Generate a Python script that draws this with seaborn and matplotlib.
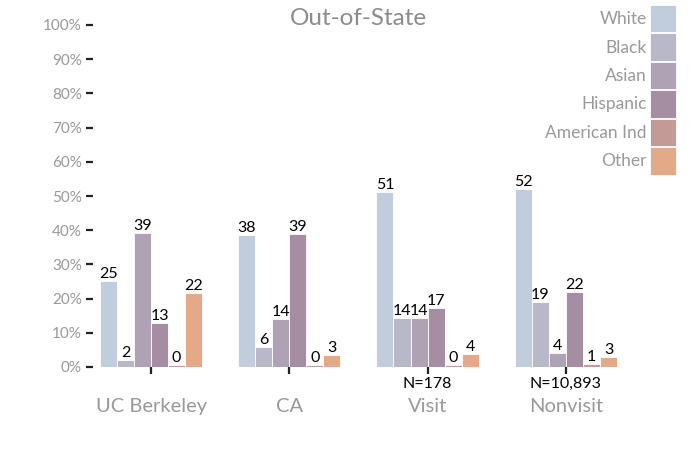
import pandas as pd
import matplotlib.pyplot as plt
import seaborn as sns

# data (percent)
groups = ["UC Berkeley", "CA", "Visit", "Nonvisit"]
races = ["White", "Black", "Asian", "Hispanic", "American Ind", "Other"]
white = [25.2, 38.5, 51.3, 52.0]
black = [2.0, 5.8, 14.4, 19.0]
asian = [39.2, 14.0, 14.2, 4.2]
hispanic = [12.8, 38.8, 17.2, 22.0]
american_ind = [0.5, 0.5, 0.5, 1.0]
other = [21.7, 3.4, 3.8, 2.9]
sample_sizes = ["", "", "N=178", "N=10,893"]
colors = ["#c1ccdc", "#b8b8c9", "#afa2b4", "#a58ea2", "#c49a96", "#e4aa88"]

series = [white, black, asian, hispanic, american_ind, other]
rows = []
for race, vals in zip(races, series):
    for g, v in zip(groups, vals):
        rows.append({"group": g, "race": race, "pct": v})
df = pd.DataFrame(rows)

sns.set_style("white")
plt.rcParams["font.family"] = ["Lato", "DejaVu Sans"]

fig = plt.figure(figsize=(7, 4.5), dpi=100)
ax = fig.add_axes([93 / 700, 1 - 367 / 450, (635 - 93) / 700, (367 - 25) / 450])

sns.barplot(data=df, x="group", y="pct", hue="race", order=groups,
            hue_order=races, palette=colors, width=0.74,
            edgecolor="white", linewidth=0.6, saturation=1, ax=ax)

for cont in ax.containers:
    ax.bar_label(cont, labels=[f"{round(b.get_height())}" for b in cont],
                 padding=0, fontsize=11.5, color="black")

ax.set_ylim(0, 100)
ax.set_xlim(-0.42, 3.5)
ax.set_yticks(range(0, 101, 10))
ax.set_yticklabels([f"{t}%" for t in range(0, 101, 10)], color="#999999", fontsize=11)
ax.set_xticks(range(len(groups)))
ax.set_xticklabels(groups, color="#999999", fontsize=14.5)
ax.tick_params(axis="y", length=5, width=1.6, color="#222222", pad=3, left=True)
ax.tick_params(axis="x", length=5, width=1.6, color="#222222", pad=17, bottom=True)
ax.set_xlabel("")
ax.set_ylabel("")
sns.despine(ax=ax, left=True, bottom=True)

for i, n in enumerate(sample_sizes):
    if n:
        ax.text(i, -3.0, n, ha="center", va="top", fontsize=11.5, color="black")

ax.set_title("Out-of-State", color="#8c8c8c", fontsize=17.5, pad=0)
ax.title.set_position((0.49, 0.995))

handles, labels = ax.get_legend_handles_labels()
ax.legend_.remove()
fig.legend(handles, labels, loc="upper right", bbox_to_anchor=(676 / 700, 1 - 5 / 450),
           frameon=False, markerfirst=False, fontsize=12.5, labelcolor="#999999",
           handlelength=1.5, handleheight=2.05, labelspacing=0.06,
           handletextpad=0.2, borderpad=0, borderaxespad=0)

fig.savefig("out.png", dpi=100)
